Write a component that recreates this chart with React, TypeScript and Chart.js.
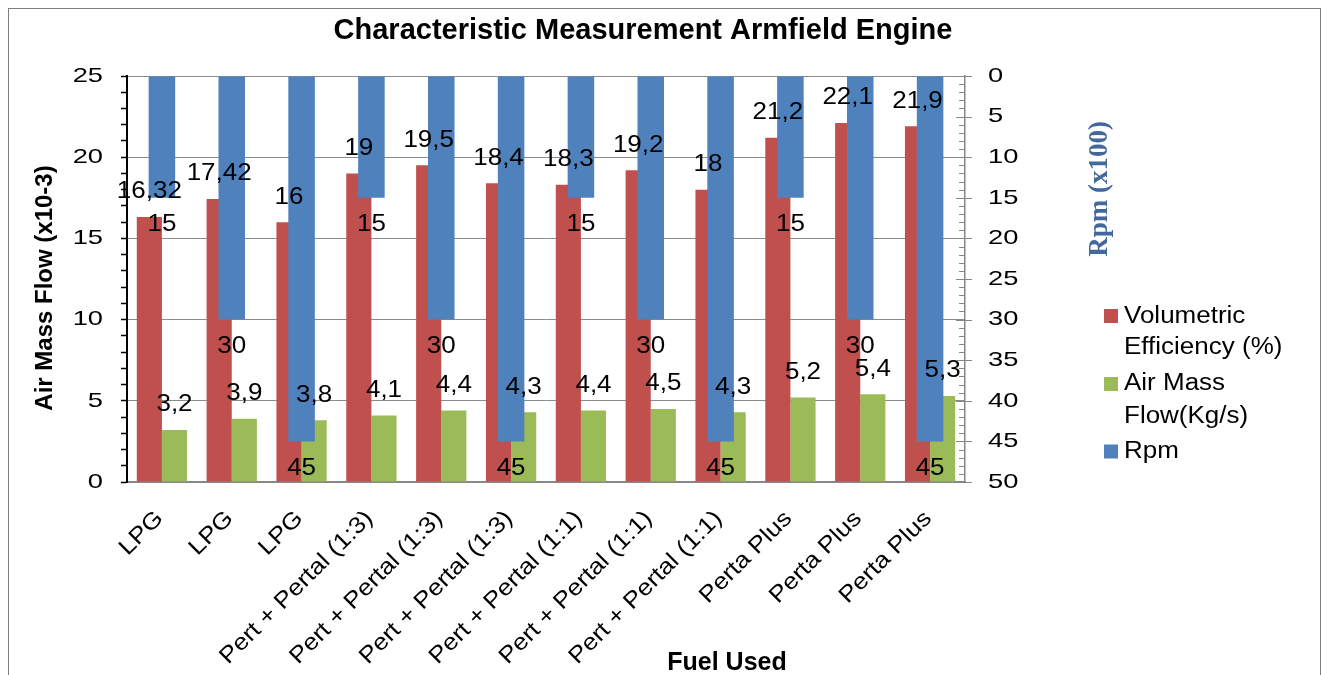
import React, { useEffect, useRef } from 'react';
import { Chart, registerables } from 'chart.js';

Chart.register(...registerables);

const categories = [
  'LPG', 'LPG', 'LPG',
  'Pert + Pertal (1:3)', 'Pert + Pertal (1:3)', 'Pert + Pertal (1:3)',
  'Pert + Pertal (1:1)', 'Pert + Pertal (1:1)', 'Pert + Pertal (1:1)',
  'Perta Plus', 'Perta Plus', 'Perta Plus',
];
const volumetricEfficiency = [16.32, 17.42, 16, 19, 19.5, 18.4, 18.3, 19.2, 18, 21.2, 22.1, 21.9];
const airMassFlow = [3.2, 3.9, 3.8, 4.1, 4.4, 4.3, 4.4, 4.5, 4.3, 5.2, 5.4, 5.3];
const rpm = [15, 30, 45, 15, 30, 45, 15, 30, 45, 15, 30, 45];

const leftTickLabels = [0, 5, 10, 15, 20, 25];
const rightTickLabels = [0, 5, 10, 15, 20, 25, 30, 35, 40, 45, 50];

const seriesNames = ['Volumetric Efficiency (%)', 'Air Mass Flow(Kg/s)', 'Rpm'];
const legendLines = [['Volumetric', 'Efficiency (%)'], ['Air Mass', 'Flow(Kg/s)'], ['Rpm']];
const colors = ['#C0504D', '#9BBB59', '#4F81BD'];

const chartTitle = 'Characteristic Measurement Armfield Engine';
const leftAxisTitle = 'Air Mass Flow (x10-3)';
const rightAxisTitle = 'Rpm (x100)';
const xAxisTitle = 'Fuel Used';

const W = 1311;
const H = 690;
const AREA_LEFT = 118;
const AREA_RIGHT = 956;
const AREA_TOP = 67;
const AREA_BOTTOM = 473;
const SANS = "'Liberation Sans', Arial, sans-serif";
const SERIF = "'Liberation Serif', 'Times New Roman', serif";
const STRETCH = 1.13;
const TICK_STRETCH = 1.3;

const fmt = (v: number) => String(v).replace('.', ',');

function stretchedText(
  ctx: CanvasRenderingContext2D,
  text: string,
  x: number,
  y: number,
  align: CanvasTextAlign,
  sx: number = STRETCH,
  rot: number = 0,
) {
  ctx.save();
  ctx.translate(x, y);
  if (rot) ctx.rotate(rot);
  ctx.scale(sx, 1);
  ctx.textAlign = align;
  ctx.fillText(text, 0, 0);
  ctx.restore();
}

const decorPlugin = {
  id: 'decor',
  afterDatasetsDraw(chart: any) {
    const ctx: CanvasRenderingContext2D = chart.ctx;
    ctx.save();
    ctx.fillStyle = '#000';
    ctx.textBaseline = 'middle';
    ctx.font = `23px ${SANS}`;
    chart.data.datasets.forEach((ds: any, di: number) => {
      const meta = chart.getDatasetMeta(di);
      meta.data.forEach((el: any, i: number) => {
        const v = ds.data[i];
        const y = di === 2 ? el.y + 27 : el.y - 25;
        stretchedText(ctx, fmt(v), el.x, y, 'center');
      });
    });
    ctx.restore();
  },
  afterDraw(chart: any) {
    const ctx: CanvasRenderingContext2D = chart.ctx;
    const { x: xs, y: ys, y2 } = chart.scales;
    const area = chart.chartArea;
    const ax = area.right;
    ctx.save();
    // right axis minor / major ticks
    ctx.strokeStyle = '#868686';
    ctx.lineWidth = 1;
    for (let v = 0; v <= 50; v++) {
      const py = Math.round(y2.getPixelForValue(v)) + 0.5;
      ctx.beginPath();
      if (v % 5 === 0) {
        ctx.moveTo(ax - 9, py);
        ctx.lineTo(ax + 7, py);
      } else {
        ctx.moveTo(ax - 6, py);
        ctx.lineTo(ax, py);
      }
      ctx.stroke();
    }
    ctx.fillStyle = '#000';
    ctx.textBaseline = 'middle';
    // y tick labels
    ctx.font = `21px ${SANS}`;
    leftTickLabels.forEach((v) => {
      stretchedText(ctx, String(v), area.left - 24, ys.getPixelForValue(v), 'right', TICK_STRETCH);
    });
    rightTickLabels.forEach((v) => {
      stretchedText(ctx, String(v), area.right + 23, y2.getPixelForValue(v), 'left', TICK_STRETCH);
    });
    // x tick labels (rotated 45deg)
    ctx.font = `23px ${SANS}`;
    categories.forEach((c, i) => {
      const px = xs.getPixelForTick(i);
      stretchedText(ctx, c, px - 2, area.bottom + 33, 'right', STRETCH, -Math.PI / 4);
    });
    // title
    ctx.textAlign = 'center';
    ctx.font = `bold 29px ${SANS}`;
    ctx.fillText(chartTitle, 634, 22);
    // x axis title
    ctx.font = `bold 25px ${SANS}`;
    ctx.textBaseline = 'alphabetic';
    ctx.fillText(xAxisTitle, 718, 661);
    // left axis title
    ctx.save();
    ctx.translate(36, 279);
    ctx.rotate(-Math.PI / 2);
    ctx.textBaseline = 'middle';
    ctx.font = `bold 24px ${SANS}`;
    ctx.fillText(leftAxisTitle, 0, 0);
    ctx.restore();
    // right axis title
    ctx.save();
    ctx.translate(1091, 180);
    ctx.rotate(-Math.PI / 2);
    ctx.textBaseline = 'middle';
    ctx.fillStyle = '#44689C';
    ctx.font = `bold 27px ${SERIF}`;
    ctx.fillText(rightAxisTitle, 0, 0);
    ctx.restore();
    // legend
    const rowCenters = [[308, 339], [375, 408], [443]];
    const boxCenters = [307, 375, 442.5];
    ctx.font = `23px ${SANS}`;
    ctx.textBaseline = 'middle';
    legendLines.forEach((lines, i) => {
      ctx.fillStyle = colors[i];
      ctx.fillRect(1095, boxCenters[i] - 7, 14, 14);
      ctx.fillStyle = '#000';
      lines.forEach((line, j) => {
        stretchedText(ctx, line, 1115, rowCenters[i][j], 'left');
      });
    });
    ctx.restore();
  },
};

export default function App() {
  const canvasRef = useRef<HTMLCanvasElement | null>(null);

  useEffect(() => {
    const canvas = canvasRef.current;
    if (!canvas) return;
    const chart = new Chart(canvas, {
      type: 'bar',
      data: {
        labels: categories,
        datasets: [
          {
            label: seriesNames[0],
            data: volumetricEfficiency,
            backgroundColor: colors[0],
            yAxisID: 'y',
            categoryPercentage: 0.72,
            barPercentage: 1,
            order: 1,
          },
          {
            label: seriesNames[1],
            data: airMassFlow,
            backgroundColor: colors[1],
            yAxisID: 'y',
            categoryPercentage: 0.72,
            barPercentage: 1,
            order: 1,
          },
          {
            label: seriesNames[2],
            data: rpm,
            backgroundColor: colors[2],
            yAxisID: 'y2',
            grouped: false,
            categoryPercentage: 0.38,
            barPercentage: 1,
            order: -1,
          },
        ] as any,
      },
      options: {
        responsive: false,
        animation: false,
        devicePixelRatio: 1,
        layout: { padding: { top: AREA_TOP, left: 0, right: W - AREA_RIGHT - 60, bottom: 0 } },
        plugins: {
          legend: { display: false },
          title: { display: false },
          tooltip: { enabled: false },
        },
        scales: {
          x: {
            offset: true,
            grid: { display: false },
            border: { color: '#868686', width: 1.5 },
            ticks: { display: false, autoSkip: false },
            afterFit: (s: any) => { s.height = H - AREA_BOTTOM; },
          },
          y: {
            position: 'left',
            min: 0,
            max: 25,
            border: { color: '#000', width: 2 },
            grid: {
              color: (c: any) => (c.tick && c.tick.value % 5 === 0 ? '#8C8C8C' : 'rgba(0,0,0,0)'),
              tickColor: '#000',
              tickLength: 6,
              lineWidth: 1,
              tickWidth: 1.5,
            },
            ticks: { display: false, stepSize: 1, autoSkip: false },
            afterFit: (s: any) => { s.width = AREA_LEFT; },
          },
          y2: {
            position: 'right',
            reverse: true,
            min: 0,
            max: 50,
            border: { color: '#868686', width: 1.5 },
            grid: { drawOnChartArea: false, drawTicks: false },
            ticks: { display: false, stepSize: 5 },
            afterFit: (s: any) => { s.width = 60; },
          },
        },
      } as any,
      plugins: [decorPlugin],
    });
    return () => chart.destroy();
  }, []);

  return (
    <div style={{ width: W, height: H, border: '1px solid #7f7f7f', background: '#fff' }}>
      <canvas ref={canvasRef} width={W} height={H} style={{ display: 'block', width: W, height: H }} />
    </div>
  );
}
